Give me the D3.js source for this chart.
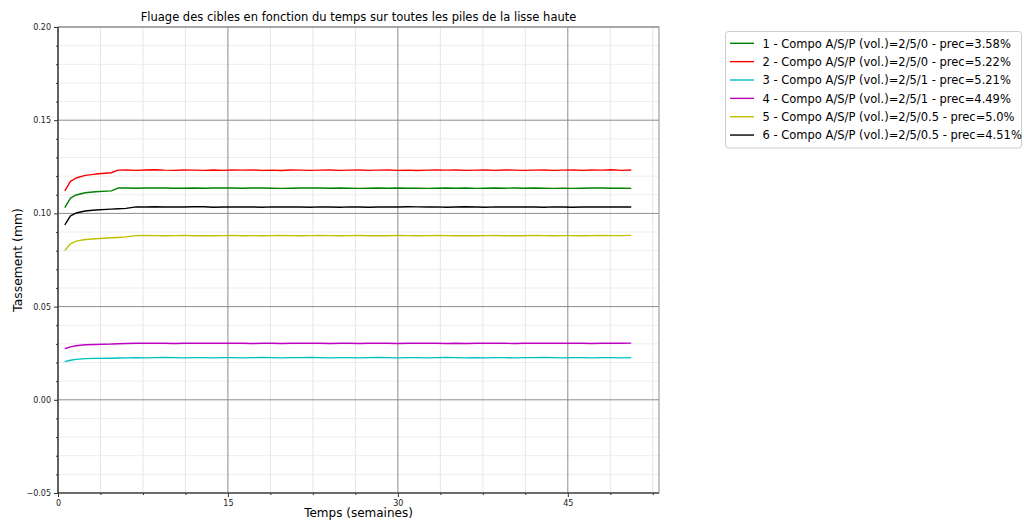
<!DOCTYPE html>
<html>
<head>
<meta charset="utf-8">
<script src="https://cdn.jsdelivr.net/npm/d3@7"></script>
<style>
  body { margin: 0; background: #fff; }
  svg { display: block; font-family: "DejaVu Sans", sans-serif; }
</style>
</head>
<body>
<svg id="chart" width="1024" height="521"></svg>
<script>
const title = "Fluage des cibles en fonction du temps sur toutes les piles de la lisse haute";
const xLabel = "Temps (semaines)";
const yLabel = "Tassement (mm)";
const xTicks = [0, 15, 30, 45];
const yTicks = [-0.05, 0.00, 0.05, 0.10, 0.15, 0.20];

const times = [0.6,1.1,1.6,2.4,3.3,4.7,5.3,
  6.0,6.9,7.7,8.6,9.4,10.3,11.1,12.0,12.9,13.7,
  14.6,15.4,16.3,17.1,18.0,18.9,19.7,20.6,21.4,22.3,
  23.1,24.0,24.9,25.7,26.6,27.4,28.3,29.1,30.0,30.9,
  31.7,32.6,33.4,34.3,35.1,36.0,36.9,37.7,38.6,39.4,
  40.3,41.1,42.0,42.9,43.7,44.6,45.4,46.3,47.1,48.0,
  48.9,49.7,50.6];

const seriesNames = [
  "1 - Compo A/S/P (vol.)=2/5/0 - prec=3.58%",
  "2 - Compo A/S/P (vol.)=2/5/0 - prec=5.22%",
  "3 - Compo A/S/P (vol.)=2/5/1 - prec=5.21%",
  "4 - Compo A/S/P (vol.)=2/5/1 - prec=4.49%",
  "5 - Compo A/S/P (vol.)=2/5/0.5 - prec=5.0%",
  "6 - Compo A/S/P (vol.)=2/5/0.5 - prec=4.51%"
];
const seriesColors = ["#008000", "#ff0000", "#00bfbf", "#bf00bf", "#bfbf00", "#000000"];

const s1 = [0.1031,0.1082,0.1099,0.1111,0.1116,0.1121,0.1136,
  0.1136,0.1135,0.1136,0.1137,0.1136,0.1135,0.1135,0.1136,0.1135,0.1136,
  0.1137,0.1136,0.1135,0.1136,0.1136,0.1135,0.1134,0.1135,0.1136,0.1137,
  0.1136,0.1135,0.1136,0.1135,0.1134,0.1135,0.1136,0.1135,0.1136,0.1135,
  0.1135,0.1134,0.1135,0.1136,0.1135,0.1136,0.1134,0.1135,0.1136,0.1135,
  0.1136,0.1135,0.1136,0.1135,0.1134,0.1135,0.1134,0.1135,0.1136,0.1136,
  0.1135,0.1135,0.1134];
const s2 = [0.1121,0.1172,0.1190,0.1204,0.1211,0.1218,0.1232,
  0.1233,0.1231,0.1233,0.1234,0.1232,0.1231,0.1233,0.1232,0.1231,0.1233,
  0.1231,0.1233,0.1232,0.1233,0.1231,0.1232,0.1230,0.1233,0.1232,0.1231,
  0.1232,0.1233,0.1231,0.1232,0.1233,0.1231,0.1232,0.1233,0.1231,0.1232,
  0.1230,0.1232,0.1233,0.1232,0.1233,0.1231,0.1232,0.1233,0.1231,0.1233,
  0.1232,0.1231,0.1232,0.1233,0.1231,0.1232,0.1233,0.1231,0.1233,0.1232,
  0.1234,0.1231,0.1233];
const s3 = [0.0205,0.0212,0.0217,0.0221,0.0222,0.0223,0.0224,
  0.0225,0.0226,0.0225,0.0226,0.0227,0.0226,0.0225,0.0226,0.0226,0.0225,
  0.0226,0.0226,0.0225,0.0226,0.0227,0.0226,0.0225,0.0226,0.0226,0.0227,
  0.0226,0.0225,0.0226,0.0226,0.0225,0.0226,0.0227,0.0226,0.0225,0.0226,
  0.0226,0.0225,0.0226,0.0227,0.0226,0.0225,0.0226,0.0225,0.0226,0.0226,
  0.0225,0.0226,0.0226,0.0227,0.0226,0.0225,0.0226,0.0226,0.0225,0.0226,
  0.0226,0.0225,0.0226];
const s4 = [0.0274,0.0284,0.0290,0.0295,0.0297,0.0299,0.0301,
  0.0302,0.0303,0.0304,0.0303,0.0303,0.0302,0.0303,0.0304,0.0303,0.0303,
  0.0304,0.0303,0.0303,0.0302,0.0303,0.0303,0.0302,0.0303,0.0303,0.0304,
  0.0303,0.0302,0.0303,0.0303,0.0302,0.0303,0.0304,0.0303,0.0302,0.0303,
  0.0303,0.0304,0.0303,0.0302,0.0303,0.0302,0.0303,0.0303,0.0304,0.0303,
  0.0302,0.0303,0.0303,0.0304,0.0303,0.0303,0.0304,0.0303,0.0302,0.0303,
  0.0303,0.0303,0.0304];
const s5 = [0.0800,0.0837,0.0851,0.0860,0.0864,0.0869,0.0871,
  0.0874,0.0881,0.0882,0.0881,0.0880,0.0881,0.0882,0.0880,0.0881,0.0880,
  0.0881,0.0882,0.0880,0.0881,0.0880,0.0881,0.0882,0.0881,0.0880,0.0881,
  0.0882,0.0881,0.0880,0.0881,0.0882,0.0880,0.0881,0.0880,0.0882,0.0881,
  0.0880,0.0881,0.0882,0.0881,0.0880,0.0881,0.0880,0.0881,0.0882,0.0880,
  0.0881,0.0880,0.0882,0.0881,0.0880,0.0881,0.0881,0.0880,0.0881,0.0882,
  0.0881,0.0881,0.0882];
const s6 = [0.0939,0.0987,0.1002,0.1013,0.1018,0.1023,0.1025,
  0.1027,0.1035,0.1034,0.1036,0.1034,0.1035,0.1034,0.1036,0.1036,0.1033,
  0.1034,0.1035,0.1034,0.1035,0.1033,0.1035,0.1034,0.1035,0.1034,0.1033,
  0.1035,0.1034,0.1033,0.1035,0.1034,0.1033,0.1034,0.1035,0.1034,0.1036,
  0.1035,0.1034,0.1035,0.1033,0.1034,0.1036,0.1034,0.1033,0.1035,0.1034,
  0.1034,0.1035,0.1034,0.1033,0.1035,0.1034,0.1033,0.1034,0.1035,0.1034,
  0.1035,0.1034,0.1034];
const seriesValues = [s1, s2, s3, s4, s5, s6];

const svg = d3.select("#chart");
const m = {left: 58, top: 27, right: 659, bottom: 493};
const x = d3.scaleLinear().domain([0, 53.05]).range([m.left, m.right]);
const y = d3.scaleLinear().domain([-0.05, 0.20]).range([m.bottom, m.top]);

// minor grid
const xMinor = d3.range(0, 53.05, 3.75).filter(v => !xTicks.includes(v));
const yMinor = d3.range(-5, 21, 1).map(v => v / 100).filter(v => !yTicks.some(t => Math.abs(t - v) < 1e-9));
const g = svg.append("g");
g.selectAll(".xmin").data(xMinor).join("line")
  .attr("x1", d => x(d)).attr("x2", d => x(d)).attr("y1", m.top).attr("y2", m.bottom)
  .attr("stroke", "#e6e6e6").attr("stroke-width", 1);
g.selectAll(".ymin").data(yMinor).join("line")
  .attr("y1", d => y(d)).attr("y2", d => y(d)).attr("x1", m.left).attr("x2", m.right)
  .attr("stroke", "#ececec").attr("stroke-width", 1);
// major grid
g.selectAll(".xmaj").data(xTicks).join("line")
  .attr("x1", d => x(d)).attr("x2", d => x(d)).attr("y1", m.top).attr("y2", m.bottom)
  .attr("stroke", "#8c8c8c").attr("stroke-width", 1);
g.selectAll(".ymaj").data(yTicks).join("line")
  .attr("y1", d => y(d)).attr("y2", d => y(d)).attr("x1", m.left).attr("x2", m.right)
  .attr("stroke", "#8c8c8c").attr("stroke-width", 1);

// lines
const line = d3.line().x((d, i) => x(times[i])).y(d => y(d));
seriesValues.forEach((vals, k) => {
  svg.append("path").datum(vals)
    .attr("d", line)
    .attr("fill", "none")
    .attr("stroke", seriesColors[k])
    .attr("stroke-width", 1.4)
    .attr("stroke-linejoin", "round");
});

// frame
svg.append("rect").attr("x", m.left).attr("y", m.top)
  .attr("width", m.right - m.left).attr("height", m.bottom - m.top)
  .attr("fill", "none").attr("stroke", "#8c8c8c").attr("stroke-width", 1);
svg.append("line").attr("x1", m.left).attr("x2", m.left).attr("y1", m.top).attr("y2", m.bottom)
  .attr("stroke", "#333").attr("stroke-width", 1.2);
svg.append("line").attr("x1", m.left).attr("x2", m.right).attr("y1", m.bottom).attr("y2", m.bottom)
  .attr("stroke", "#333").attr("stroke-width", 1.2);

// axes
const fmtY = v => (v < 0 ? "\u2212" : "") + Math.abs(v).toFixed(2);
const yAxis = d3.axisLeft(y).tickValues(yTicks).tickFormat(fmtY).tickSize(4).tickPadding(3);
const yAxisG = svg.append("g").attr("transform", `translate(${m.left},0)`).call(yAxis);
const xAxis = d3.axisBottom(x).tickValues(xTicks).tickFormat(d3.format("d")).tickSize(4).tickPadding(3);
const xAxisG = svg.append("g").attr("transform", `translate(0,${m.bottom})`).call(xAxis);
[yAxisG, xAxisG].forEach(a => {
  a.select(".domain").remove();
  a.selectAll("text").attr("font-size", 8).attr("fill", "#222").attr("font-family", "DejaVu Sans");
  a.selectAll("line").attr("stroke", "#333");
});
const yMinorAxis = d3.axisLeft(y).tickValues(yMinor).tickFormat("").tickSize(2);
svg.append("g").attr("transform", `translate(${m.left},0)`).call(yMinorAxis)
  .call(a => { a.select(".domain").remove(); a.selectAll("line").attr("stroke", "#333"); });
const xMinorAxis = d3.axisBottom(x).tickValues(xMinor).tickFormat("").tickSize(2);
svg.append("g").attr("transform", `translate(0,${m.bottom})`).call(xMinorAxis)
  .call(a => { a.select(".domain").remove(); a.selectAll("line").attr("stroke", "#333"); });

// title & labels
svg.append("text").attr("x", (m.left + m.right) / 2).attr("y", 21)
  .attr("text-anchor", "middle").attr("font-size", 11.5).attr("fill", "#000").text(title);
svg.append("text").attr("x", (m.left + m.right) / 2).attr("y", 517)
  .attr("text-anchor", "middle").attr("font-size", 12).attr("fill", "#000").text(xLabel);
svg.append("text").attr("transform", `translate(22,${(m.top + m.bottom) / 2}) rotate(-90)`)
  .attr("text-anchor", "middle").attr("font-size", 12.4).attr("fill", "#000").text(yLabel);

// legend
const lg = svg.append("g");
lg.append("rect").attr("x", 725.5).attr("y", 31.5).attr("width", 296).attr("height", 116.5)
  .attr("rx", 3).attr("fill", "#fff").attr("stroke", "#cccccc").attr("stroke-width", 1);
seriesNames.forEach((name, k) => {
  const cy = 43.3 + k * 18.35;
  lg.append("line").attr("x1", 730).attr("x2", 754).attr("y1", cy).attr("y2", cy)
    .attr("stroke", seriesColors[k]).attr("stroke-width", 1.4);
  lg.append("text").attr("x", 762.5).attr("y", cy + 4.3).attr("font-size", 11.5)
    .attr("fill", "#000").text(name);
});
</script>
</body>
</html>
